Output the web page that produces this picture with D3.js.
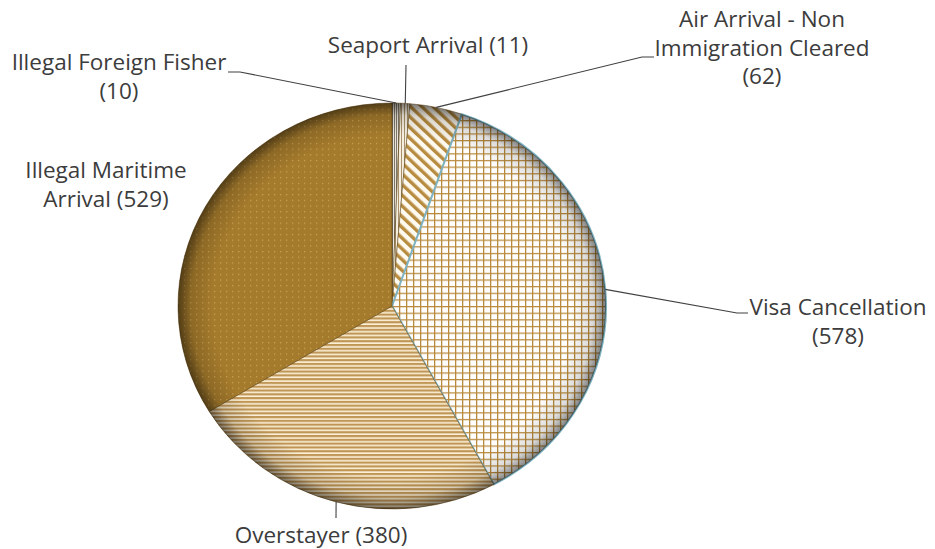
<!DOCTYPE html>
<html>
<head>
<meta charset="utf-8">
<script src="https://cdn.jsdelivr.net/npm/d3@7"></script>
<style>
  html, body { margin: 0; padding: 0; background: #fff; }
  svg { display: block; }
  text { font-family: "Open Sans", Lato, sans-serif; fill: #3c3c3c; }
</style>
</head>
<body>
<svg id="chart" width="935" height="549"></svg>
<script>
// ---- data ----
const categories = ["Illegal Foreign Fisher", "Seaport Arrival", "Air Arrival - Non Immigration Cleared", "Visa Cancellation", "Overstayer", "Illegal Maritime Arrival"];
const values = [10, 11, 62, 578, 380, 529];
const labelLines = [
  ["Illegal Foreign Fisher", "({v})"],
  ["Seaport Arrival ({v})"],
  ["Air Arrival - Non", "Immigration Cleared", "({v})"],
  ["Visa Cancellation", "({v})"],
  ["Overstayer ({v})"],
  ["Illegal Maritime", "Arrival ({v})"]
];

// ---- layout ----
const cx = 392, cy = 306, rx = 214, ry = 203;
const labelPos = [
  { x: 119, y: 70 },
  { x: 428, y: 53 },
  { x: 762, y: 27 },
  { x: 838, y: 315 },
  { x: 321, y: 543 },
  { x: 106, y: 178 }
];
const leaderEnds = [
  [[240, 72], [228, 72]],
  [[406, 65]],
  [[642, 57], [654, 57]],
  [[737, 313], [748, 313]],
  [[336, 518]],
  null
];
const lineGap = 28.5;

const svg = d3.select("#chart");
const defs = svg.append("defs");

function pat(id, w, h, transform) {
  const p = defs.append("pattern").attr("id", id).attr("patternUnits", "userSpaceOnUse")
    .attr("width", w).attr("height", h);
  if (transform) p.attr("patternTransform", transform);
  return p;
}
let p = pat("pFisher", 2, 4);
p.append("rect").attr("width", 2).attr("height", 4).attr("fill", "#ece6da");
p.append("rect").attr("width", 1).attr("height", 4).attr("fill", "#7d766a");
p = pat("pSeaport", 3, 4);
p.append("rect").attr("width", 3).attr("height", 4).attr("fill", "#f6efe0");
p.append("rect").attr("width", 1).attr("height", 4).attr("fill", "#a8916a");
p = pat("pAir", 8, 8, "rotate(-45)");
p.append("rect").attr("width", 8).attr("height", 8).attr("fill", "#fffaf0");
p.append("rect").attr("width", 3.5).attr("height", 8).attr("fill", "#b88c40");
p = pat("pVisa", 7, 7);
p.append("rect").attr("width", 7).attr("height", 7).attr("fill", "#ffffff");
p.append("rect").attr("width", 7).attr("height", 1.3).attr("fill", "#b98a3c");
p.append("rect").attr("width", 1.3).attr("height", 7).attr("fill", "#b98a3c");
p = pat("pOver", 4, 4);
p.append("rect").attr("width", 4).attr("height", 4).attr("fill", "#fcf1d8");
p.append("rect").attr("width", 4).attr("height", 2.3).attr("fill", "#c09656");
p = pat("pIMA", 6, 6);
p.append("rect").attr("width", 6).attr("height", 6).attr("fill", "#a47a2c");
p.append("rect").attr("x", 2).attr("y", 2).attr("width", 1.3).attr("height", 1.3).attr("fill", "#c9a252");
const fills = ["url(#pFisher)", "url(#pSeaport)", "url(#pAir)", "url(#pVisa)", "url(#pOver)", "url(#pIMA)"];

const rg = defs.append("radialGradient").attr("id", "rim").attr("gradientUnits", "userSpaceOnUse")
  .attr("cx", 0).attr("cy", 0).attr("r", rx);
rg.append("stop").attr("offset", "0.84").attr("stop-color", "#000").attr("stop-opacity", 0);
rg.append("stop").attr("offset", "0.94").attr("stop-color", "#000").attr("stop-opacity", 0.14);
rg.append("stop").attr("offset", "1").attr("stop-color", "#000").attr("stop-opacity", 0.5);

const data = categories.map((c, i) => ({ name: c, value: values[i], i }));
const pie = d3.pie().value(d => d.value).sort(null);
const arcs = pie(data);
const arc = d3.arc().innerRadius(0).outerRadius(rx);

const g = svg.append("g").attr("transform", `translate(${cx},${cy}) scale(1,${ry / rx})`);
g.selectAll("path.slice").data(arcs).join("path")
  .attr("class", "slice")
  .attr("d", arc)
  .attr("fill", d => fills[d.data.i])
  .attr("stroke", d => d.data.i === 3 ? "#7fb2c0" : "rgba(90,65,20,0.6)")
  .attr("stroke-width", d => d.data.i === 3 ? 2 : 0.9)
  .attr("stroke-linejoin", "round");
g.selectAll("path.shade").data(arcs).join("path")
  .attr("class", "shade")
  .attr("d", arc)
  .attr("fill", "url(#rim)")
  .attr("pointer-events", "none");

const edgePoint = d => {
  const a = (d.startAngle + d.endAngle) / 2;
  return [cx + rx * Math.sin(a), cy - ry * Math.cos(a)];
};
const lineGen = d3.line();
arcs.forEach(d => {
  const ends = leaderEnds[d.data.i];
  if (!ends) return;
  svg.append("path")
    .attr("d", lineGen([edgePoint(d), ...ends]))
    .attr("fill", "none").attr("stroke", "#404040").attr("stroke-width", 1.1);
});

data.forEach((d, i) => {
  const t = svg.append("text")
    .attr("x", labelPos[i].x).attr("y", labelPos[i].y)
    .attr("text-anchor", "middle").attr("font-size", 22.5);
  labelLines[i].forEach((ln, j) => {
    t.append("tspan").attr("x", labelPos[i].x).attr("y", labelPos[i].y + j * lineGap)
      .text(ln.replace("{v}", d.value));
  });
});
</script>
</body>
</html>
